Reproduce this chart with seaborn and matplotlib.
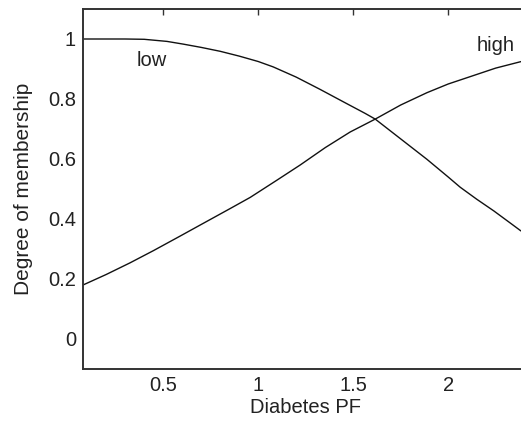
import matplotlib
matplotlib.use("Agg")
import matplotlib.pyplot as plt
import seaborn as sns
import pandas as pd

# Values
low_x = [0.078, 0.2, 0.3, 0.4, 0.52, 0.605, 0.7, 0.8, 0.9, 1.0, 1.079, 1.2, 1.326, 1.45, 1.563, 1.616,
         1.75, 1.888, 2.0, 2.063, 2.15, 2.24, 2.33, 2.379, 2.42]
low_y = [1.0, 1.0, 1.0, 0.999, 0.992, 0.983, 0.972, 0.959, 0.943, 0.925, 0.907, 0.873, 0.832, 0.79, 0.752, 0.733,
         0.667, 0.599, 0.54, 0.506, 0.466, 0.427, 0.385, 0.362, 0.345]

high_x = [0.078, 0.2, 0.326, 0.45, 0.589, 0.695, 0.853, 0.958, 1.1, 1.221, 1.353, 1.484, 1.616,
          1.75, 1.888, 2.0, 2.151, 2.25, 2.379, 2.42]
high_y = [0.18, 0.215, 0.254, 0.295, 0.343, 0.38, 0.435, 0.472, 0.53, 0.58, 0.638, 0.69, 0.733,
          0.78, 0.821, 0.85, 0.882, 0.903, 0.924, 0.93]

x_ticks = [0.5, 1, 1.5, 2]
y_ticks = [0, 0.2, 0.4, 0.6, 0.8, 1]
y_tick_labels = ["0", "0.2", "0.4", "0.6", "0.8", "1"]
x_tick_labels = ["0.5", "1", "1.5", "2"]

sns.set_theme(style="white")
plt.rcParams["font.family"] = ["Liberation Sans", "DejaVu Sans"]

df = pd.concat([
    pd.DataFrame({"x": low_x, "y": low_y, "mf": "low"}),
    pd.DataFrame({"x": high_x, "y": high_y, "mf": "high"}),
])

fig = plt.figure(figsize=(5.21, 4.28), dpi=100)
ax = fig.add_axes([83 / 521, 59 / 428, 445 / 521, 360 / 428])
sns.lineplot(data=df, x="x", y="y", hue="mf", palette={"low": "#111111", "high": "#111111"},
             linewidth=1.0, legend=False, ax=ax, sort=False, estimator=None)

ax.set_xlim(0.078, 2.42)
ax.set_ylim(-0.1, 1.1)
ax.set_xticks(x_ticks)
ax.set_xticklabels(x_tick_labels)
ax.set_yticks(y_ticks)
ax.set_yticklabels(y_tick_labels)
ax.tick_params(direction="in", length=4, width=1, colors="#333333", labelsize=14.5,
               top=True, right=True, labelcolor="#222222", pad=5)
for s in ax.spines.values():
    s.set_visible(True)
    s.set_color("#333333")
    s.set_linewidth(1.4)

ax.set_xlabel("Diabetes PF", fontsize=14.5, color="#222222", labelpad=2)
ax.set_ylabel("Degree of membership", fontsize=15, color="#222222", labelpad=11)

ax.text(0.36, 0.928, "low", fontsize=14.5, color="#222222", va="center", ha="left")
ax.text(2.148, 0.978, "high", fontsize=14.5, color="#222222", va="center", ha="left")

fig.savefig("out.png", dpi=100)
